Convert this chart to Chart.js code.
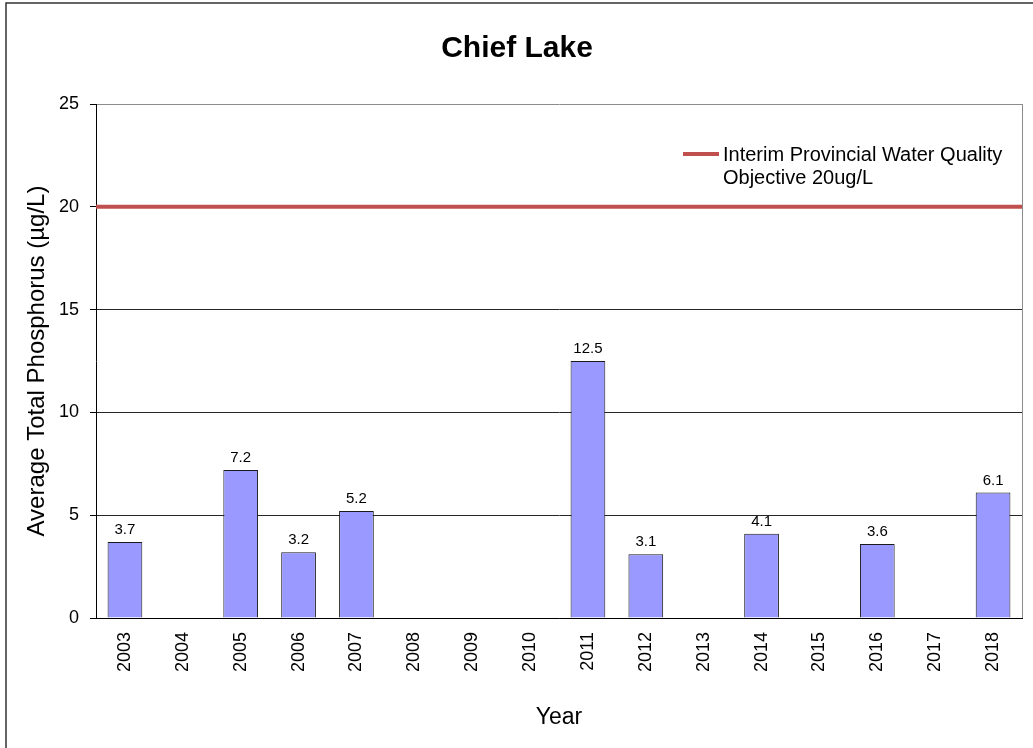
<!DOCTYPE html>
<html>
<head>
<meta charset="utf-8">
<title>Chief Lake</title>
<script src="https://cdn.jsdelivr.net/npm/chart.js@4.4.0/dist/chart.umd.min.js"></script>
<style>
  html, body { margin: 0; padding: 0; background: #fff; }
  #wrap { width: 1033px; height: 748px; }
</style>
</head>
<body>
<div id="wrap"><canvas id="chart" width="1033" height="748"></canvas></div>
<script>
const years = ['2003', '2004', '2005', '2006', '2007', '2008', '2009', '2010',
               '2011', '2012', '2013', '2014', '2015', '2016', '2017', '2018'];
// null = no sampling that year
const phosphorus = [3.7, null, 7.2, 3.2, 5.2, null, null, null,
                    12.5, 3.1, null, 4.1, null, 3.6, null, 6.1];
const objectiveValue = 20;
const objectiveLabel = ['Interim Provincial Water Quality', 'Objective 20ug/L'];
const yTicks = [0, 5, 10, 15, 20, 25];

const FONT = "'Liberation Sans', Arial, sans-serif";

// outer frame of the chart + grey right edge of the plot area
const framePlugin = {
  id: 'frame',
  beforeDraw(chart) {
    const { ctx, chartArea: a } = chart;
    ctx.save();
    ctx.strokeStyle = '#333';
    ctx.lineWidth = 1.5;
    ctx.beginPath();
    ctx.moveTo(6, chart.height);
    ctx.lineTo(6, 3);
    ctx.lineTo(chart.width, 3);
    ctx.stroke();
    ctx.strokeStyle = '#8c8c8c';
    ctx.lineWidth = 1;
    ctx.beginPath();
    ctx.moveTo(a.right + 0.5, a.top);
    ctx.lineTo(a.right + 0.5, a.bottom);
    ctx.stroke();
    ctx.restore();
  }
};

// value labels above the bars
const barLabels = {
  id: 'barLabels',
  afterDatasetsDraw(chart) {
    const ctx = chart.ctx;
    const meta = chart.getDatasetMeta(0);
    ctx.save();
    ctx.font = '15px ' + FONT;
    ctx.fillStyle = '#000';
    ctx.textAlign = 'center';
    ctx.textBaseline = 'alphabetic';
    meta.data.forEach((bar, i) => {
      if (phosphorus[i] == null) return;
      ctx.fillText(phosphorus[i].toFixed(1), bar.x, bar.y - 8);
    });
    ctx.restore();
  }
};

// legend sits inside the plot, top right
const insideLegend = {
  id: 'insideLegend',
  afterDraw(chart) {
    const { ctx, chartArea: a } = chart;
    const lx = a.right - 339;
    const ly = a.top + 50;
    ctx.save();
    ctx.strokeStyle = '#C0504D';
    ctx.lineWidth = 4;
    ctx.beginPath();
    ctx.moveTo(lx, ly);
    ctx.lineTo(lx + 36, ly);
    ctx.stroke();
    ctx.font = '20px ' + FONT;
    ctx.fillStyle = '#000';
    ctx.textBaseline = 'middle';
    objectiveLabel.forEach((t, i) => ctx.fillText(t, lx + 40, ly + 1 + i * 23));
    ctx.restore();
  }
};

new Chart(document.getElementById('chart'), {
  type: 'bar',
  data: {
    labels: years,
    datasets: [
      {
        type: 'bar',
        label: 'Average Total Phosphorus',
        data: phosphorus,
        backgroundColor: '#9999FF',
        borderColor: '#1a1a1a',
        borderWidth: 1,
        grouped: false,
        barPercentage: 0.6,
        categoryPercentage: 1.0
      },
      {
        type: 'line',
        label: objectiveLabel.join(' '),
        xAxisID: 'x2',
        data: [{ x: 0, y: objectiveValue }, { x: 1, y: objectiveValue }],
        borderColor: '#C0504D',
        borderWidth: 4,
        pointRadius: 0,
        fill: false
      }
    ]
  },
  options: {
    responsive: false,
    animation: false,
    layout: { padding: { left: 12, right: 11, top: 0, bottom: 0 } },
    plugins: {
      legend: { display: false },
      tooltip: { enabled: false },
      title: {
        display: true,
        text: 'Chief Lake',
        color: '#000',
        font: { family: FONT, size: 30, weight: 'bold' },
        padding: { top: 31, bottom: 37 }
      }
    },
    scales: {
      x: {
        type: 'category',
        grid: { display: false, drawTicks: false },
        border: { display: true, color: '#000', width: 1 },
        ticks: {
          color: '#000',
          font: { family: FONT, size: 18 },
          minRotation: 90,
          maxRotation: 90,
          autoSkip: false,
          padding: 14
        },
        title: {
          display: true,
          text: 'Year',
          color: '#000',
          font: { family: FONT, size: 23 },
          padding: { top: 0, bottom: 17 }
        },
        afterFit(scale) { scale.height = 130; }
      },
      x2: {
        type: 'linear',
        display: false,
        offset: false,
        min: 0,
        max: 1
      },
      y: {
        min: yTicks[0],
        max: yTicks[yTicks.length - 1],
        ticks: {
          stepSize: yTicks[1] - yTicks[0],
          color: '#000',
          font: { family: FONT, size: 18 },
          padding: 11
        },
        grid: {
          color: (c) => c.tick && c.tick.value === yTicks[yTicks.length - 1] ? '#8c8c8c' : '#262626',
          tickColor: '#000',
          tickLength: 6,
          lineWidth: 1
        },
        border: { display: true, color: '#000', width: 1 },
        title: {
          display: true,
          text: 'Average Total Phosphorus (µg/L)',
          color: '#000',
          font: { family: FONT, size: 24 },
          padding: { top: 11, bottom: 0 }
        },
        afterFit(scale) { scale.width = 84; }
      }
    }
  },
  plugins: [framePlugin, barLabels, insideLegend]
});
</script>
</body>
</html>
